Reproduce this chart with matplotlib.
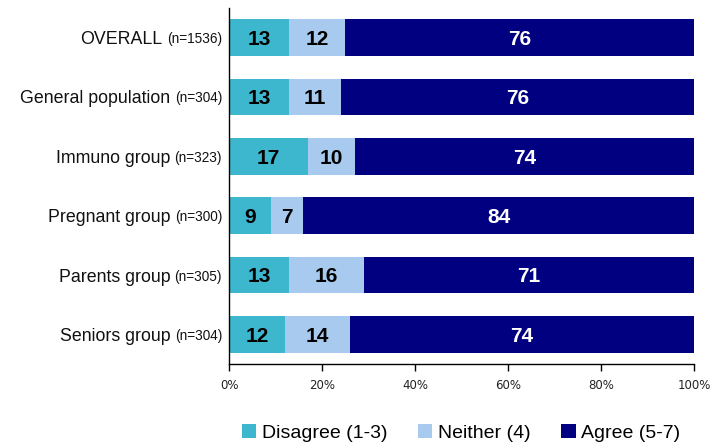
import matplotlib
matplotlib.use("Agg")
import matplotlib.pyplot as plt
from matplotlib.patches import Patch
from matplotlib import font_manager

# Prefer a narrow sans face for the labels; fall back to a scaled regular face
available = {f.name for f in font_manager.fontManager.ttflist}
if 'Liberation Sans Narrow' in available:
    LABEL_FAMILY, SCALE = 'Liberation Sans Narrow', 1.0
else:
    LABEL_FAMILY, SCALE = 'Liberation Sans', 0.85

plt.rcParams['font.family'] = ['Liberation Sans', 'DejaVu Sans']

groups = ["OVERALL", "General population", "Immuno group", "Pregnant group",
          "Parents group", "Seniors group"]
sample_sizes = ["(n=1536)", "(n=304)", "(n=323)", "(n=300)", "(n=305)", "(n=304)"]
disagree = [13, 13, 17, 9, 13, 12]
neither = [12, 11, 10, 7, 16, 14]
agree = [76, 76, 74, 84, 71, 74]

series_names = ["Disagree (1-3)", "Neither (4)", "Agree (5-7)"]
series_colors = ["#3DB7CD", "#A8CAEE", "#000080"]
label_colors = ["black", "black", "white"]
xticks = [0, 20, 40, 60, 80, 100]
xtick_labels = ["0%", "20%", "40%", "60%", "80%", "100%"]

W, H = 714, 444
fig = plt.figure(figsize=(W / 100, H / 100), dpi=100)
ax = fig.add_axes([229 / W, 1 - 364 / H, (694 - 229) / W, (364 - 8) / H])

ypos = list(range(len(groups)))
left = [0] * len(groups)
for vals, color, tcolor in zip([disagree, neither, agree], series_colors, label_colors):
    ax.barh(ypos, vals, left=left, height=0.62, color=color, edgecolor='none')
    for y, l, v in zip(ypos, left, vals):
        cx = (l + min(l + v, 100)) / 2
        ax.text(cx, y, f"{v}", ha='center', va='center_baseline', color=tcolor,
                fontsize=15, fontweight='bold', family='Liberation Sans')
    left = [a + b for a, b in zip(left, vals)]

ax.set_xlim(0, 100)
ax.set_ylim(len(groups) - 0.5, -0.5)
ax.set_xticks(xticks)
ax.set_xticklabels(xtick_labels, family='DejaVu Sans', fontsize=8.5, color='#222222')
ax.set_yticks([])
ax.tick_params(axis='x', length=5, width=1, direction='out', pad=6, color='black')
for side in ('top', 'right'):
    ax.spines[side].set_visible(False)
for side in ('left', 'bottom'):
    ax.spines[side].set_linewidth(1.0)
    ax.spines[side].set_color('black')

# Category labels: group name followed by a smaller sample size
renderer = fig.canvas.get_renderer()
gap_axis = 7 * 0.72
for y, name, n in zip(ypos, groups, sample_sizes):
    t_n = ax.annotate(n, xy=(0, y), xycoords=('axes fraction', 'data'),
                      xytext=(-gap_axis, 0), textcoords='offset points',
                      ha='right', va='center_baseline', fontsize=11.5 * SCALE,
                      family=LABEL_FAMILY, color='#111111')
    w = t_n.get_window_extent(renderer).width * 72 / fig.dpi
    ax.annotate(name, xy=(0, y), xycoords=('axes fraction', 'data'),
                xytext=(-gap_axis - w - 3, 0), textcoords='offset points',
                ha='right', va='center_baseline', fontsize=15 * SCALE,
                family=LABEL_FAMILY, color='#111111')

handles = [Patch(facecolor=c, edgecolor='none') for c in series_colors]
fig.legend(handles, series_names, loc='center', bbox_to_anchor=(461 / W, 11 / H),
           ncol=3, frameon=False,
           prop={'family': LABEL_FAMILY, 'size': 16.5 * SCALE},
           handlelength=0.75, handleheight=0.75,
           handletextpad=0.3, columnspacing=1.55, borderpad=0, borderaxespad=0)

fig.savefig("out.png", dpi=100)
